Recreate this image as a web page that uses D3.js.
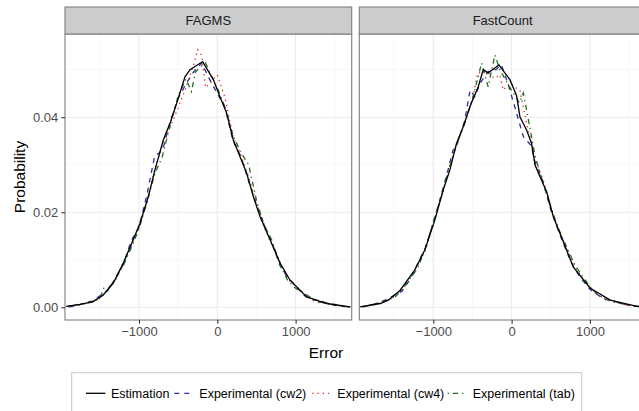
<!DOCTYPE html>
<html>
<head>
<meta charset="utf-8">
<script src="https://cdn.jsdelivr.net/npm/d3@7"></script>
<style>
body { margin: 0; background: #fff; }
text { font-family: "Liberation Sans", Arial, sans-serif; }
</style>
</head>
<body>
<script>
// facet names and legend labels
var panelNames = ["FAGMS", "FastCount"];
var seriesNames = ["Estimation", "Experimental (cw2)", "Experimental (cw4)", "Experimental (tab)"];

var errorTicks = [-1000, 0, 1000];
var errorMinor = [-1500, -500, 500, 1500];
var probTicks = [0, 0.02, 0.04];
var probMinor = [0.01, 0.03, 0.05];

// FAGMS panel, [error, probability]
var fagmsEstimation = [[-1930,0.0002],[-1750,0.0006],[-1584,0.0012],[-1456,0.0026],[-1328,0.0051],[-1200,0.0093],
  [-1093,0.0135],[-987,0.0177],[-881,0.0233],[-796,0.0289],[-690,0.0352],[-604,0.0387],[-519,0.0429],[-413,0.0485],
  [-349,0.0500],[-187,0.0517],[-51,0.0479],[34,0.0443],[120,0.0408],[204,0.0352],[290,0.0317],[375,0.0282],
  [460,0.0233],[545,0.0191],[674,0.0142],[801,0.0093],[929,0.0057],[1142,0.0022],[1397,0.0008],[1695,0.0001]];
var fagmsCw2 = [[-1900,0.0001],[-1800,0.0003],[-1700,0.0009],[-1600,0.0013],[-1500,0.0024],[-1400,0.0035],[-1300,0.0062],
  [-1200,0.0090],[-1100,0.0140],[-1000,0.0168],[-900,0.0236],[-800,0.0318],[-700,0.0330],[-600,0.0392],[-500,0.0440],
  [-400,0.0470],[-300,0.0496],[-200,0.0514],[-100,0.0480],[0,0.0450],[100,0.0420],[200,0.0350],[300,0.0318],
  [400,0.0265],[500,0.0216],[600,0.0174],[700,0.0135],[800,0.0088],[900,0.0062],[1000,0.0046],[1100,0.0026],
  [1200,0.0016],[1300,0.0015],[1400,0.0009],[1500,0.0004],[1600,0.0002],[1700,0.0001]];
var fagmsCw4 = [[-1900,0.0002],[-1800,0.0004],[-1700,0.0007],[-1600,0.0013],[-1500,0.0019],[-1400,0.0038],[-1300,0.0057],
  [-1200,0.0095],[-1100,0.0128],[-1000,0.0174],[-900,0.0218],[-800,0.0290],[-700,0.0342],[-600,0.0380],[-500,0.0420],
  [-400,0.0462],[-300,0.0512],[-250,0.0542],[-200,0.0530],[-150,0.0462],[-100,0.0470],[0,0.0489],[100,0.0440],
  [200,0.0360],[300,0.0320],[400,0.0275],[500,0.0218],[600,0.0168],[700,0.0130],[800,0.0096],[900,0.0060],
  [1000,0.0044],[1100,0.0030],[1200,0.0017],[1300,0.0010],[1400,0.0008],[1500,0.0004],[1600,0.0002],[1700,0.0001]];
var fagmsTab = [[-1900,0.0002],[-1800,0.0005],[-1700,0.0008],[-1600,0.0011],[-1500,0.0018],[-1450,0.0040],[-1400,0.0038],
  [-1300,0.0060],[-1200,0.0088],[-1100,0.0125],[-1000,0.0165],[-900,0.0220],[-800,0.0280],[-700,0.0318],[-600,0.0385],
  [-500,0.0445],[-400,0.0480],[-330,0.0454],[-280,0.0495],[-200,0.0508],[-150,0.0514],[-100,0.0495],[0,0.0462],
  [100,0.0420],[200,0.0362],[300,0.0326],[400,0.0300],[500,0.0225],[600,0.0172],[700,0.0140],[800,0.0090],
  [900,0.0056],[1000,0.0040],[1100,0.0030],[1200,0.0020],[1300,0.0011],[1400,0.0009],[1500,0.0006],[1600,0.0002],[1700,0.0001]];

// FastCount panel
var fastEstimation = [[-1934,0.0001],[-1678,0.0008],[-1576,0.0015],[-1423,0.0036],[-1235,0.0079],[-1107,0.0121],
  [-980,0.0184],[-873,0.0247],[-788,0.0289],[-703,0.0345],[-618,0.0380],[-533,0.0422],[-426,0.0464],[-362,0.0500],
  [-299,0.0493],[-162,0.0510],[-22,0.0479],[64,0.0445],[106,0.0401],[191,0.0373],[255,0.0345],[298,0.0300],
  [361,0.0275],[447,0.0243],[532,0.0191],[617,0.0156],[787,0.0085],[1005,0.0040],[1260,0.0015],[1600,0.0002],[1700,0.0001]];
var fastCw2 = [[-1900,0.0001],[-1800,0.0004],[-1700,0.0010],[-1600,0.0016],[-1500,0.0025],[-1400,0.0034],[-1300,0.0058],
  [-1200,0.0092],[-1100,0.0126],[-1000,0.0178],[-900,0.0236],[-800,0.0296],[-750,0.0330],[-700,0.0340],[-600,0.0392],
  [-530,0.0457],[-470,0.0443],[-400,0.0472],[-300,0.0496],[-200,0.0500],[-130,0.0510],[-50,0.0472],[40,0.0422],
  [150,0.0359],[250,0.0340],[300,0.0305],[400,0.0265],[500,0.0205],[600,0.0160],[700,0.0118],[800,0.0082],
  [900,0.0058],[1000,0.0038],[1100,0.0026],[1200,0.0016],[1300,0.0014],[1400,0.0008],[1500,0.0004],[1600,0.0002],[1700,0.0001]];
var fastCw4 = [[-1900,0.0002],[-1800,0.0004],[-1700,0.0008],[-1600,0.0013],[-1500,0.0022],[-1400,0.0038],[-1300,0.0062],
  [-1200,0.0088],[-1100,0.0120],[-1000,0.0175],[-900,0.0230],[-800,0.0288],[-700,0.0345],[-600,0.0388],[-500,0.0440],
  [-430,0.0493],[-320,0.0496],[-220,0.0482],[-150,0.0489],[-107,0.0457],[-20,0.0472],[50,0.0462],[106,0.0457],
  [191,0.0387],[300,0.0312],[400,0.0270],[500,0.0212],[600,0.0162],[700,0.0125],[800,0.0090],[900,0.0062],
  [1000,0.0042],[1100,0.0025],[1200,0.0018],[1300,0.0012],[1400,0.0007],[1500,0.0004],[1600,0.0002],[1700,0.0001]];
var fastTab = [[-1900,0.0001],[-1800,0.0005],[-1700,0.0009],[-1600,0.0014],[-1500,0.0020],[-1400,0.0036],[-1300,0.0060],
  [-1200,0.0082],[-1100,0.0125],[-1000,0.0180],[-900,0.0232],[-800,0.0292],[-700,0.0344],[-600,0.0386],[-500,0.0438],
  [-383,0.0514],[-300,0.0464],[-213,0.0531],[-150,0.0500],[-50,0.0470],[20,0.0451],[100,0.0430],[149,0.0451],
  [191,0.0415],[300,0.0318],[400,0.0262],[500,0.0210],[600,0.0165],[700,0.0128],[800,0.0092],[900,0.0066],
  [1000,0.0044],[1100,0.0026],[1200,0.0018],[1300,0.0011],[1400,0.0008],[1500,0.0005],[1600,0.0002],[1700,0.0001]];

var panelData = [
  [fagmsEstimation, fagmsCw2, fagmsCw4, fagmsTab],
  [fastEstimation, fastCw2, fastCw4, fastTab]
];

var colors = ["#000000", "#2e2e9c", "#e0282a", "#1f6f1f"];
var dashes = [null, "5,5", "1.3,3.9", "1.3,3.9,5.2,3.9"];

var W = 639, H = 411;
var panelLeft = [65, 359.3], panelW = 286.7;
var panelTop = 34, panelBottom = 320, stripTop = 7;

var svg = d3.select("body").append("svg")
  .attr("width", W)
  .attr("height", H);

var y = d3.scaleLinear().domain([-0.00267, 0.0575]).range([panelBottom, panelTop]);

var line;

panelData.forEach(function(series, i){
  var x0 = panelLeft[i];
  var x = d3.scaleLinear().domain([-1945, 1716]).range([x0, x0 + panelW]);
  var g = svg.append("g");

  g.append("clipPath").attr("id", "clip" + i)
    .append("rect").attr("x", x0).attr("y", panelTop).attr("width", panelW).attr("height", panelBottom - panelTop);

  // grid
  g.selectAll(".vmin").data(errorMinor).enter().append("line")
    .attr("x1", function(d){ return x(d); }).attr("x2", function(d){ return x(d); })
    .attr("y1", panelTop).attr("y2", panelBottom)
    .style("stroke", "#f3f3f3").style("stroke-width", 0.6);
  g.selectAll(".hmin").data(probMinor).enter().append("line")
    .attr("x1", x0).attr("x2", x0 + panelW)
    .attr("y1", function(d){ return y(d); }).attr("y2", function(d){ return y(d); })
    .style("stroke", "#f3f3f3").style("stroke-width", 0.6);
  g.selectAll(".vmaj").data(errorTicks).enter().append("line")
    .attr("x1", function(d){ return x(d); }).attr("x2", function(d){ return x(d); })
    .attr("y1", panelTop).attr("y2", panelBottom)
    .style("stroke", "#ebebeb").style("stroke-width", 1.1);
  g.selectAll(".hmaj").data(probTicks).enter().append("line")
    .attr("x1", x0).attr("x2", x0 + panelW)
    .attr("y1", function(d){ return y(d); }).attr("y2", function(d){ return y(d); })
    .style("stroke", "#ebebeb").style("stroke-width", 1.1);

  line = d3.line().x(function(d){ return x(d[0]); }).y(function(d){ return y(d[1]); });

  // draw experimental first, estimation on top
  [1, 2, 3, 0].forEach(function(k){
    g.append("path")
      .attr("d", line(series[k]))
      .attr("clip-path", "url(#clip" + i + ")")
      .style("fill", "none")
      .style("stroke", colors[k])
      .style("stroke-width", 1.3)
      .style("stroke-dasharray", dashes[k]);
  });

  // panel border
  g.append("rect").attr("x", x0).attr("y", panelTop).attr("width", panelW).attr("height", panelBottom - panelTop)
    .style("fill", "none").style("stroke", "#7f7f7f").style("stroke-width", 1.1);

  // strip
  g.append("rect").attr("x", x0).attr("y", stripTop).attr("width", panelW).attr("height", panelTop - stripTop)
    .style("fill", "#cccccc").style("stroke", "#7f7f7f").style("stroke-width", 1.1);
  g.append("text").attr("x", x0 + panelW / 2).attr("y", (stripTop + panelTop) / 2 + 4.5)
    .attr("text-anchor", "middle").style("font-size", "13px").style("fill", "#1a1a1a")
    .text(panelNames[i]);

  // x axis
  var xAxis = d3.axisBottom(x).tickValues(errorTicks).tickSize(3.7).tickPadding(3)
    .tickFormat(function(d){ return d3.format("")(d).replace("-", "\u2212"); });
  var ax = g.append("g").attr("transform", "translate(0," + panelBottom + ")").call(xAxis);
  ax.select(".domain").remove();
  ax.selectAll("line").style("stroke", "#333333").style("stroke-width", 1.1);
  ax.selectAll("text").style("font-size", "13px").style("fill", "#4d4d4d")
    .style("font-family", "Liberation Sans, Arial, sans-serif");

  if (i === 0) {
    var yAxis = d3.axisLeft(y).tickValues(probTicks).tickSize(3.7).tickPadding(3)
      .tickFormat(d3.format(".2f"));
    var ay = g.append("g").attr("transform", "translate(" + x0 + ",0)").call(yAxis);
    ay.select(".domain").remove();
    ay.selectAll("line").style("stroke", "#333333").style("stroke-width", 1.1);
    ay.selectAll("text").style("font-size", "13px").style("fill", "#4d4d4d")
      .style("font-family", "Liberation Sans, Arial, sans-serif");
  }
});

// axis titles
svg.append("text").attr("x", 326).attr("y", 357.5).attr("text-anchor", "middle")
  .style("font-size", "15.5px").style("fill", "#000").text("Error");
svg.append("text").attr("transform", "translate(25," + ((panelTop + panelBottom) / 2) + ") rotate(-90)")
  .attr("text-anchor", "middle").style("font-size", "15.5px").style("fill", "#000").text("Probability");

// legend
var legend = svg.append("g");
legend.append("rect").attr("x", 71.7).attr("y", 372.7).attr("width", 510).attr("height", 42)
  .style("fill", "#fff").style("stroke", "#c8c8c8").style("stroke-width", 1);
var keyX = [86, 174.3, 312.3, 447.7];
seriesNames.forEach(function(name, k){
  legend.append("line")
    .attr("x1", keyX[k]).attr("x2", keyX[k] + 19.3)
    .attr("y1", 393.3).attr("y2", 393.3)
    .style("stroke", colors[k]).style("stroke-width", 1.3)
    .style("stroke-dasharray", dashes[k]);
  legend.append("text").attr("x", keyX[k] + 25).attr("y", 397.7)
    .style("font-size", "12.5px").style("fill", "#000").text(name);
});
</script>
</body>
</html>
